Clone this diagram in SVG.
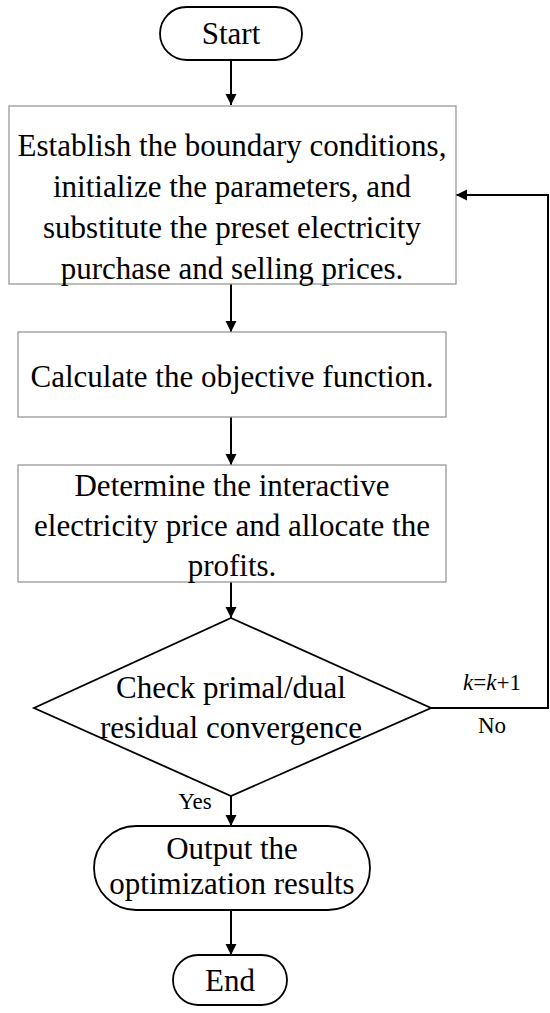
<svg xmlns="http://www.w3.org/2000/svg" width="550" height="1013" viewBox="0 0 550 1013">
<style>
text{font-family:"Liberation Serif","Times New Roman",serif;fill:#000}
.t{font-size:31px;text-anchor:middle}
.l{font-size:23px;text-anchor:middle}
.term,.dec{fill:#fff;stroke:#000;stroke-width:1.8}
.box{fill:#fff;stroke:#999;stroke-width:1.3}
.c{fill:none;stroke:#000;stroke-width:2}
</style>
<defs>
<marker id="ah" markerWidth="11" markerHeight="14" refX="10" refY="5" orient="auto" markerUnits="userSpaceOnUse" viewBox="0 0 10 10">
<path d="M0,0 L10,5 L0,10 Z" fill="#000"/>
</marker>
</defs>
<rect width="550" height="1013" fill="#fff"/>
<g id="connectors">
<line class="c" x1="231" y1="60" x2="231" y2="105" marker-end="url(#ah)"/>
<line class="c" x1="231" y1="284" x2="231" y2="332" marker-end="url(#ah)"/>
<line class="c" x1="231" y1="417" x2="231" y2="465" marker-end="url(#ah)"/>
<line class="c" x1="231" y1="582" x2="231" y2="618" marker-end="url(#ah)"/>
<line class="c" x1="231" y1="796" x2="231" y2="826" marker-end="url(#ah)"/>
<line class="c" x1="231" y1="910" x2="231" y2="955" marker-end="url(#ah)"/>
<polyline class="c" points="431,708 548,708 548,195 456,195" marker-end="url(#ah)"/>
<text class="l" x="492" y="690"><tspan font-style="italic">k</tspan>=<tspan font-style="italic">k</tspan>+1</text>
<text class="l" x="492" y="733">No</text>
<text class="l" x="195" y="809">Yes</text>
</g>
<g id="start">
<rect class="term" x="160" y="7" width="142" height="53" rx="26.5"/>
<text class="t" x="231" y="44">Start</text>
</g>
<g id="init">
<rect class="box" x="9" y="106" width="447" height="178"/>
<text class="t" x="232" y="156">Establish the boundary conditions,</text>
<text class="t" x="232" y="197">initialize the parameters, and</text>
<text class="t" x="232" y="238">substitute the preset electricity</text>
<text class="t" x="232" y="279">purchase and selling prices.</text>
</g>
<g id="objective">
<rect class="box" x="18" y="332" width="428" height="85"/>
<text class="t" x="232" y="387">Calculate the objective function.</text>
</g>
<g id="price">
<rect class="box" x="18" y="465" width="428" height="117"/>
<text class="t" x="232" y="496">Determine the interactive</text>
<text class="t" x="232" y="536">electricity price and allocate the</text>
<text class="t" x="232" y="576">profits.</text>
</g>
<g id="check">
<polygon class="dec" points="231,618 431,708 231,796 34,708"/>
<text class="t" x="231" y="698">Check primal/dual</text>
<text class="t" x="231" y="738">residual convergence</text>
</g>
<g id="output">
<rect class="term" x="94" y="826" width="276" height="84" rx="42"/>
<text class="t" x="232" y="859">Output the</text>
<text class="t" x="232" y="894">optimization results</text>
</g>
<g id="end">
<rect class="term" x="173" y="955" width="114" height="50" rx="25"/>
<text class="t" x="230" y="991">End</text>
</g>
</svg>
